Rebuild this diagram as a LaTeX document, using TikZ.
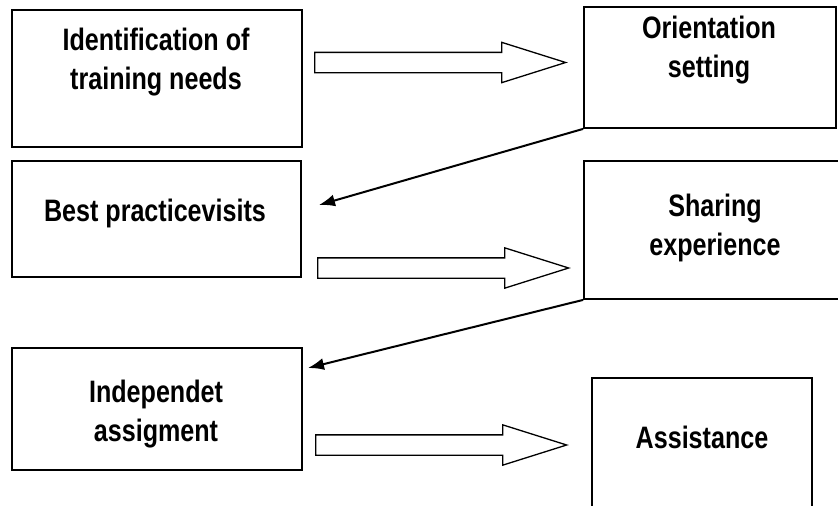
\documentclass[tikz,border=0pt]{standalone}
\usepackage{fontspec}
\newfontfamily\boxfont[FakeStretch=0.81]{Liberation Sans}
\usetikzlibrary{arrows.meta,shapes.arrows}

\begin{document}
\begin{tikzpicture}[x=1pt,y=-1pt]
            \tikzset{stage/.style = {shape=rectangle,draw,line width=1.8pt,inner sep=0pt}}
            \tikzset{caption/.style = {align=center,inner sep=0pt,font=\boxfont\bfseries\fontsize{31}{39}\selectfont}}
            \tikzset{bigarrow/.style = {single arrow,draw,line width=1.3pt,inner xsep=0pt,inner ysep=9.5pt,anchor=tail,
                minimum height=251pt,single arrow head extend=10pt,single arrow tip angle=35}}
            \tikzset{edge/.style = {-{Latex[length=16pt,width=12pt]},line width=2pt}}
            \clip (0,0) rectangle (838,506);

            % boxes
            \node[stage,minimum width=290pt,minimum height=137pt] (a) at (157,78.5) {};
            \node[stage,minimum width=252pt,minimum height=121pt] (b) at (710,67.5) {};
            \node[stage,minimum width=289pt,minimum height=116pt] (c) at (156.5,219) {};
            \node[stage,minimum width=266pt,minimum height=138pt] (d) at (717,230) {};
            \node[stage,minimum width=290pt,minimum height=122pt] (e) at (157,409) {};
            \node[stage,minimum width=220pt,minimum height=152pt] (f) at (702,454) {};

            % texts
            \node[caption] (ta) at (156,62.5) {Identification of\\training needs};
            \node[caption] (tb) at (709,50.5) {Orientation\\setting};
            \node[caption,anchor=base] (tc) at (155,221) {Best practicevisits};
            \node[caption] (td) at (715,228) {Sharing\\experience};
            \node[caption] (te) at (156,414) {Independet\\assigment};
            \node[caption,anchor=base] (tf) at (702,448) {Assistance};

            % block arrows
            \node[bigarrow] (ab) at (314,62.5) {};
            \node[bigarrow] (cd) at (317,268) {};
            \node[bigarrow] (ef) at (315,445) {};

            \coordinate (t1) at (319,205);
            \coordinate (t2) at (308,368);
            \draw[edge] (b.south west) -- (t1);
            \draw[edge] (d.south west) -- (t2);
\end{tikzpicture}
\end{document}
